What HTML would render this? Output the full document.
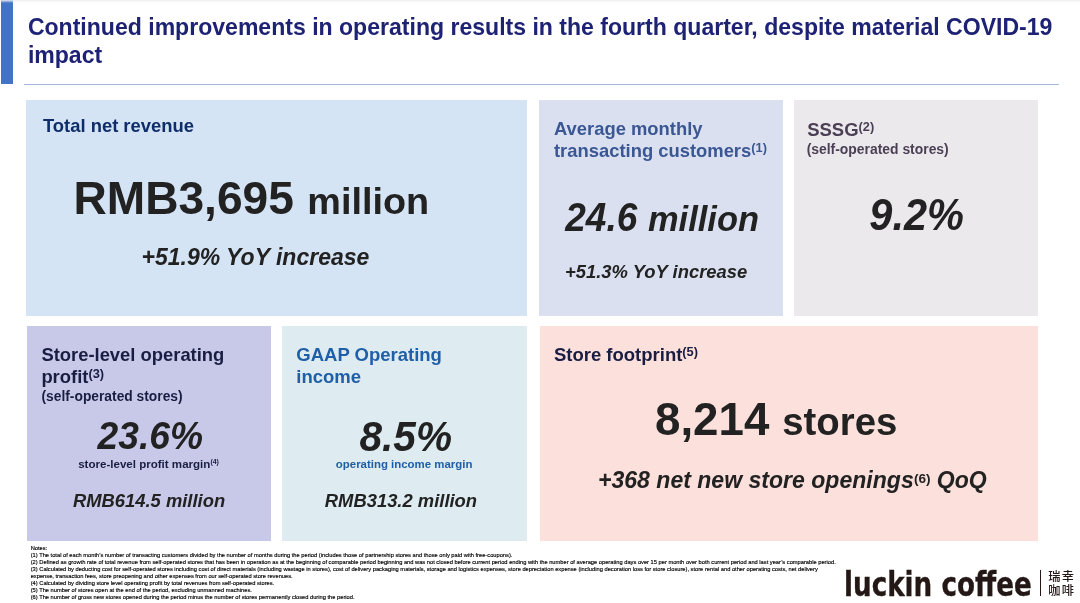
<!DOCTYPE html>
<html lang="en"><head><meta charset="utf-8"><title>Luckin Coffee – Q4 operating results</title>
<style>
html,body{margin:0;padding:0;background:#fff;}
body{width:1080px;height:603px;position:relative;overflow:hidden;font-family:"Liberation Sans","Noto Sans CJK SC",sans-serif;}
.t{position:absolute;white-space:nowrap;line-height:1;font-weight:bold;margin:0;}
.b{position:absolute;}
#shade{position:absolute;left:0;top:0;width:1080px;height:3px;background:linear-gradient(rgba(238,238,238,0.95),rgba(255,255,255,0));z-index:5;}
#bar{position:absolute;left:1px;top:0;width:12.2px;height:83.5px;background:#4472c4;}
#rule{position:absolute;left:24px;top:83.9px;width:1035px;height:1px;background:#a9b7da;}
#logo{position:absolute;left:843.8px;top:569.0px;transform:translateY(0.0px) scale(0.886,1.0);white-space:nowrap;line-height:1;font-family:"DejaVu Sans Condensed","DejaVu Sans","Liberation Sans",sans-serif;font-weight:bold;font-size:32.9px;color:#231815;-webkit-text-stroke:0.3px #231815;transform-origin:0 0;}
#sep{position:absolute;left:1039.8px;top:570.2px;width:1px;height:25.5px;background:#231815;}
.cn{position:absolute;left:1048.2px;font-family:"Noto Sans CJK SC","WenQuanYi Zen Hei",sans-serif;font-size:12.2px;font-weight:500;line-height:1;color:#231815;letter-spacing:1.4px;white-space:nowrap;}
</style></head><body>
<div id="shade"></div><div id="bar"></div><div id="rule"></div>
<header>
<div class="t" style="left:27.90px;top:16.00px;font-size:23.05px;color:#1e2274;transform:translateY(0.30px);">Continued improvements in operating results in the fourth quarter, despite material COVID-19</div>
<div class="t" style="left:27.90px;top:44.00px;font-size:23.05px;color:#1e2274;transform:translateY(0.30px);">impact</div>
</header>
<main>
<section>
<div class="b" style="left:26.3px;top:100.2px;width:500.7px;height:215.6px;background:#d4e4f5"></div>
<div class="t" style="left:43.00px;top:117.00px;font-size:18.4px;color:#0f2d69;">Total net revenue</div>
<div class="t" style="left:73.50px;top:175.00px;font-size:46.1px;color:#222222;">RMB3,695</div>
<div class="t" style="left:307.30px;top:183.00px;font-size:37.8px;color:#222222;">million</div>
<div class="t" style="left:141.50px;top:246.00px;font-size:23px;color:#222222;font-style:italic;">+51.9% YoY increase</div>
</section>
<section>
<div class="b" style="left:538.6px;top:100.3px;width:244.4px;height:215.5px;background:#dbe0f0"></div>
<div class="t" style="left:554.00px;top:120.00px;font-size:18.4px;color:#3a5794;">Average monthly</div>
<div class="t" style="left:554.00px;top:142.00px;font-size:18.4px;color:#3a5794;">transacting customers<span style="font-size:12.8px;position:relative;top:-5.0px;">(1)</span></div>
<div class="t" style="left:565.30px;top:199.00px;font-size:37px;color:#222222;font-style:italic;transform:translateY(0.50px) scaleY(1.08);transform-origin:0 31px;">24.6</div>
<div class="t" style="left:648.00px;top:201.00px;font-size:34.45px;color:#222222;font-style:italic;transform:translateY(0.50px);">million</div>
<div class="t" style="left:565.00px;top:263.00px;font-size:18.42px;color:#222222;font-style:italic;">+51.3% YoY increase</div>
</section>
<section>
<div class="b" style="left:793.5px;top:100.3px;width:244.6px;height:215.5px;background:#ebe9ec"></div>
<div class="t" style="left:807.20px;top:121.00px;font-size:18.5px;color:#4a3f54;transform:translateY(0.40px);">SSSG<span style="font-size:12.8px;position:relative;top:-5.0px;">(2)</span></div>
<div class="t" style="left:806.70px;top:143.00px;font-size:13.9px;color:#4a3f54;">(self-operated stores)</div>
<div class="t" style="left:869.30px;top:195.00px;font-size:41.5px;color:#222222;font-style:italic;transform:translateY(0.00px) scaleY(1.05);transform-origin:0 35px;">9.2%</div>
</section>
<section>
<div class="b" style="left:27px;top:326px;width:244.3px;height:215px;background:#c8c9e8"></div>
<div class="t" style="left:41.40px;top:346.00px;font-size:18.4px;color:#1a1d42;">Store-level operating</div>
<div class="t" style="left:41.40px;top:368.00px;font-size:18.4px;color:#1a1d42;">profit<span style="font-size:12.8px;position:relative;top:-5.0px;">(3)</span></div>
<div class="t" style="left:41.50px;top:390.00px;font-size:13.8px;color:#1a1d42;">(self-operated stores)</div>
<div class="t" style="left:97.60px;top:418.00px;font-size:37.2px;color:#222222;font-style:italic;transform:translateY(0.00px) scaleY(1.055);transform-origin:0 31px;">23.6%</div>
<div class="t" style="left:78.20px;top:459.00px;font-size:11.55px;color:#1a1d42;">store-level profit margin<span style="font-size:7px;position:relative;top:-4px;">(4)</span></div>
<div class="t" style="left:72.90px;top:492.00px;font-size:18.4px;color:#222222;font-style:italic;">RMB614.5 million</div>
</section>
<section>
<div class="b" style="left:282.3px;top:326px;width:244.9px;height:215px;background:#deebf0"></div>
<div class="t" style="left:296.30px;top:346.00px;font-size:18.5px;color:#1f5fa8;">GAAP Operating</div>
<div class="t" style="left:296.30px;top:368.00px;font-size:18.5px;color:#1f5fa8;">income</div>
<div class="t" style="left:359.50px;top:417.00px;font-size:40.6px;color:#222222;font-style:italic;transform:translateY(0.00px) scaleY(1.055);transform-origin:0 34px;">8.5%</div>
<div class="t" style="left:335.80px;top:459.00px;font-size:11.45px;color:#1f5fa8;">operating income margin</div>
<div class="t" style="left:324.80px;top:492.00px;font-size:18.4px;color:#222222;font-style:italic;">RMB313.2 million</div>
</section>
<section>
<div class="b" style="left:539.6px;top:325.8px;width:498.8px;height:215.2px;background:#fbe0dc"></div>
<div class="t" style="left:553.90px;top:346.00px;font-size:18.5px;color:#1a1d42;">Store footprint<span style="font-size:12.8px;position:relative;top:-5.0px;">(5)</span></div>
<div class="t" style="left:655.00px;top:397.00px;font-size:45.7px;color:#222222;transform:translateY(0.20px);">8,214</div>
<div class="t" style="left:782.30px;top:403.00px;font-size:38.3px;color:#222222;transform:translateY(0.30px);">stores</div>
<div class="t" style="left:598.00px;top:469.00px;font-size:23.05px;color:#222222;font-style:italic;">+368 net new store openings<span style="font-size:13.6px;position:relative;top:-5.1px;font-style:normal;margin-left:0.3px;margin-right:-0.2px;">(6)</span> QoQ</div>
</section>
</main>
<footer>
<div class="t" style="left:30.70px;top:546.00px;font-size:5.735px;color:#000;font-weight:normal;transform:translateY(-0.30px);-webkit-text-stroke:0.15px #000;">Notes:</div>
<div class="t" style="left:30.70px;top:553.00px;font-size:5.735px;color:#000;font-weight:normal;transform:translateY(-0.30px);-webkit-text-stroke:0.15px #000;">(1) The total of each month’s number of transacting customers divided by the number of months during the period (includes those of partnership stores and those only paid with free-coupons).</div>
<div class="t" style="left:30.70px;top:560.00px;font-size:5.735px;color:#000;font-weight:normal;transform:translateY(-0.30px);-webkit-text-stroke:0.15px #000;">(2) Defined as growth rate of total revenue from self-operated stores that has been in operation as at the beginning of comparable period beginning and was not closed before current period ending with the number of average operating days over 15 per month over both current period and last year’s comparable period.</div>
<div class="t" style="left:30.70px;top:567.00px;font-size:5.735px;color:#000;font-weight:normal;transform:translateY(-0.30px);-webkit-text-stroke:0.15px #000;">(3) Calculated by deducting cost for self-operated stores including cost of direct materials (including wastage in stores), cost of delivery packaging materials, storage and logistics expenses, store depreciation expense (including decoration loss for store closure), store rental and other operating costs, net delivery</div>
<div class="t" style="left:30.70px;top:574.00px;font-size:5.735px;color:#000;font-weight:normal;transform:translateY(-0.30px);-webkit-text-stroke:0.15px #000;">expense, transaction fees, store preopening and other expenses from our self-operated store revenues.</div>
<div class="t" style="left:30.70px;top:581.00px;font-size:5.735px;color:#000;font-weight:normal;transform:translateY(-0.30px);-webkit-text-stroke:0.15px #000;">(4) Calculated by dividing store level operating profit by total revenues from self-operated stores.</div>
<div class="t" style="left:30.70px;top:588.00px;font-size:5.735px;color:#000;font-weight:normal;transform:translateY(-0.30px);-webkit-text-stroke:0.15px #000;">(5) The number of stores open at the end of the period, excluding unmanned machines.</div>
<div class="t" style="left:30.70px;top:595.00px;font-size:5.735px;color:#000;font-weight:normal;transform:translateY(-0.30px);-webkit-text-stroke:0.15px #000;">(6) The number of gross new stores opened during the period minus the number of stores permanently closed during the period.</div>
<div id="logo">luckin coffee</div>
<div id="sep"></div>
<div class="cn" style="top:570.3px">瑞幸</div>
<div class="cn" style="top:584.3px">咖啡</div>
</footer>
</body></html>
